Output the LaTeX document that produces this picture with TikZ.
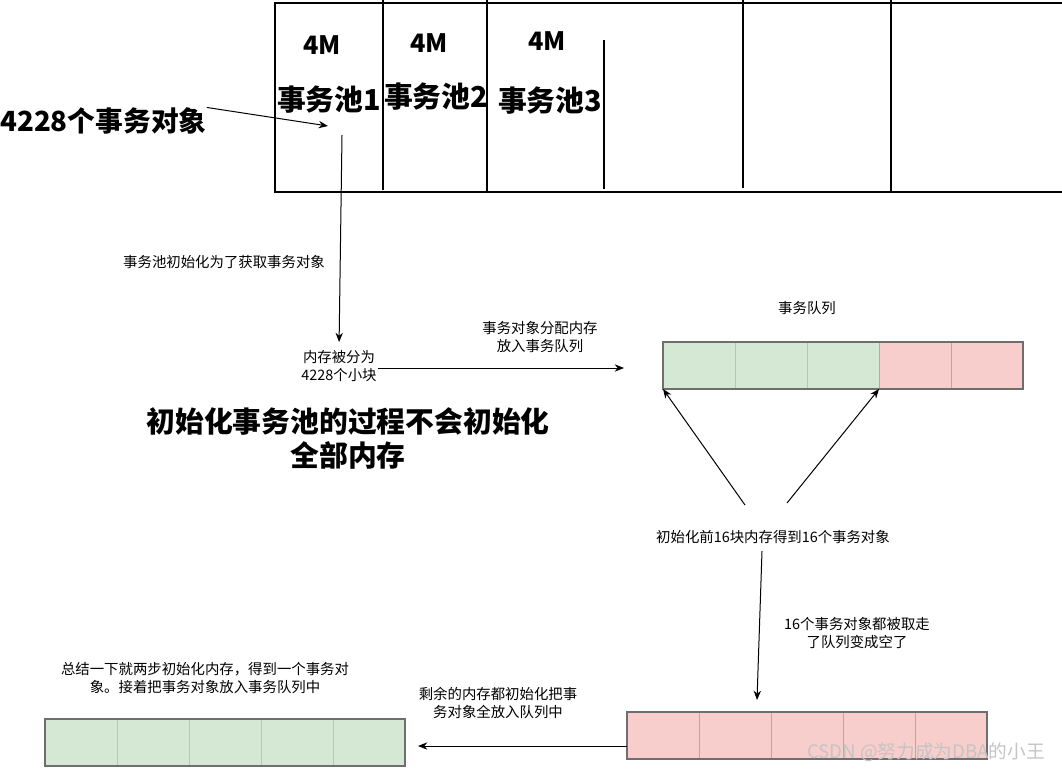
\documentclass[tikz,border=0pt]{standalone}
\usepackage{fontspec}
\setmainfont{Noto Sans CJK SC}
\usetikzlibrary{arrows.meta,positioning}
\definecolor{okfill}{HTML}{D5E8D4}
\definecolor{okline}{HTML}{B4C8B0}
\definecolor{badfill}{HTML}{F8CECC}
\definecolor{badline}{HTML}{C4A3A1}
\definecolor{edge}{HTML}{6E6E6E}
\definecolor{wmgray}{HTML}{C4C4C4}

\begin{document}
\begin{tikzpicture}[x=0.75pt,y=-0.75pt,
  note/.style={align=center,font=\fontsize{10.8}{13.5}\selectfont,inner sep=1pt},
  big/.style={align=center,font=\bfseries\fontsize{21.6}{25.5}\selectfont,inner sep=0pt},
  cell/.style={minimum width=54pt,minimum height=35.25pt,inner sep=0pt,outer sep=0pt,draw=#1},
  arr/.style={-{Stealth[length=7pt,width=5.5pt]},line width=0.75pt}]
\useasboundingbox (0,0) rectangle (1062,771);
% transaction pools
\draw[line width=1.3pt] (1062,3) -- (275,3) -- (275,192) -- (1062,192);
\foreach \x/\a/\b in {383/0/190,487/0/192,604/40/189,743/0/188,891/0/191}{\draw[line width=1.5pt] (\x,\a) -- (\x,\b);}
\node[big,font=\bfseries\fontsize{19}{22}\selectfont] (m1) at (322,45) {4M};
\node[big,font=\bfseries\fontsize{19}{22}\selectfont] (m2) at (429,43) {4M};
\node[big,font=\bfseries\fontsize{19}{22}\selectfont] (m3) at (547,41) {4M};
\node[big] (pool1) at (329,100) {事务池1};
\node[big] (pool2) at (436,97) {事务池2};
\node[big] (pool3) at (550,101) {事务池3};
\node[big,anchor=west,font=\bfseries\fontsize{20.8}{24}\selectfont] (objs) at (0,121) {4228个事务对象};
\coordinate (hit) at (328,126);
\draw[arr] (objs.north east) -- (hit);
% split into blocks
\coordinate (pooltop) at (342,135);
\node[note] (why) at (224,262) {事务池初始化为了获取事务对象};
\node[note] (split) at (339,366) {内存被分为\\4228个小块};
\draw[arr,shorten >=5pt] (pooltop) -- (split.north);
\node[note] (alloc) at (540,337) {事务对象分配内存\\放入事务队列};
\coordinate (qin) at (624,368);
\draw[arr] (split.east |- qin) -- (qin);
\node[big] (claim) at (348,438) {初始化事务池的过程不会初始化\\全部内存};
% transaction queue
\foreach \i/\x in {1/699,2/771,3/843}{\node[cell=okline,fill=okfill] (q\i) at (\x,365.5) {};}
\foreach \i/\x in {4/915,5/987}{\node[cell=badline,fill=badfill] (q\i) at (\x,365.5) {};}
\draw[edge,line width=0.9pt] (q1.north west) rectangle (q5.south east);
\node[note] (qname) at (807,308) {事务队列};
\node[note] (first16) at (773,537) {初始化前16块内存得到16个事务对象};
\coordinate (s1) at (745,505);
\coordinate (s2) at (787,503);
\draw[arr] (s1) -- (q1.south west);
\draw[arr] (s2) -- (q3.south east);
% queue emptied
\node[note] (taken) at (857,633) {16个事务对象都被取走\\了队列变成空了};
\coordinate (s3) at (762,551);
\coordinate (rin) at (757,700);
\draw[arr] (s3) -- (rin);
\foreach \i/\x in {1/663,2/735,3/807,4/879,5/951}{\node[cell=badline,fill=badfill] (r\i) at (\x,735.5) {};}
\draw[edge,line width=0.9pt] (r1.north west) rectangle (r5.south east);
% rest of memory
\node[note] (rest) at (498,703) {剩余的内存都初始化把事\\务对象全放入队列中};
\coordinate (rout) at (418,746);
\draw[arr] (r1.west |- rout) -- (rout);
\foreach \i/\x in {1/81,2/153,3/225,4/297,5/369}{\node[cell=okline,fill=okfill] (g\i) at (\x,742.5) {};}
\draw[edge,line width=0.9pt] (g1.north west) rectangle (g5.south east);
\node[note] (sum) at (205,678) {总结一下就两步初始化内存，得到一个事务对\\象。接着把事务对象放入事务队列中};
\node[text=wmgray,font=\fontsize{14}{16}\selectfont,inner sep=0pt] (wm) at (926,752) {CSDN @努力成为DBA的小王};
\end{tikzpicture}
\end{document}
